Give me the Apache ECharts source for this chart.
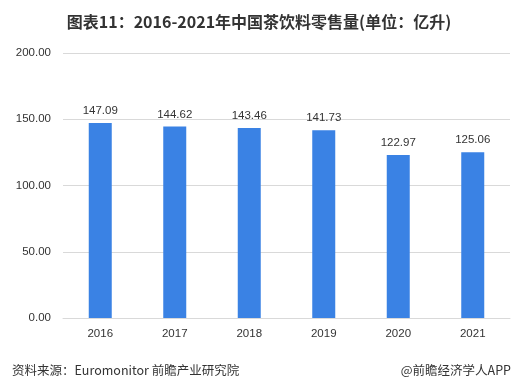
<!DOCTYPE html>
<html><head><meta charset="utf-8">
<script src="https://cdn.jsdelivr.net/npm/echarts@6/dist/echarts.min.js"></script>
<style>html,body{margin:0;padding:0;background:#fff;}#c{width:518px;height:390px;}</style>
</head><body><div id="c"></div>
<script>
var categories = ['2016','2017','2018','2019','2020','2021'];
var values = [147.09, 144.62, 143.46, 141.73, 122.97, 125.06];
var yTicks = [0, 50, 100, 150, 200];
var chart = echarts.init(document.getElementById('c'), null, {renderer:'canvas'});
chart.setOption({
  backgroundColor:'#fff',
  animation:false,
  title:[
    {text:'图表11：2016-2021年中国茶饮料零售量(单位：亿升)', left:'center', top:9,
     textStyle:{fontSize:16, fontWeight:'bold', color:'#333', fontFamily:'Noto Sans CJK SC'}},
    {text:'资料来源：Euromonitor 前瞻产业研究院', left:7, top:359,
     textStyle:{fontSize:12.5, fontWeight:'normal', color:'#333', fontFamily:'Noto Sans CJK SC'}},
    {text:'@前瞻经济学人APP', right:2, top:359,
     textStyle:{fontSize:12.5, fontWeight:'normal', color:'#333', fontFamily:'Noto Sans CJK SC'}}
  ],
  grid:{left:63, right:8, top:53, bottom:72, containLabel:false},
  xAxis:{type:'category', data:categories,
    axisLine:{show:true, lineStyle:{color:'#d9d9d9'}}, axisTick:{show:false},
    axisLabel:{color:'#333', fontSize:11.5, margin:10, fontFamily:'Liberation Sans'}},
  yAxis:{type:'value', min:yTicks[0], max:yTicks[yTicks.length-1], interval:50,
    axisLine:{show:false}, axisTick:{show:false},
    splitLine:{lineStyle:{color:'#d9d9d9'}},
    axisLabel:{color:'#333', fontSize:11.5, margin:12, fontFamily:'Liberation Sans',
      formatter:function(v){return v.toFixed(2);}}},
  series:[{type:'bar', data:values, barWidth:23,
    itemStyle:{color:'#3a82e4'},
    label:{show:true, position:'top', distance:6, color:'#333', fontSize:11.5, fontFamily:'Liberation Sans',
      formatter:function(p){return p.value.toFixed(2);}}}]
});
</script></body></html>
